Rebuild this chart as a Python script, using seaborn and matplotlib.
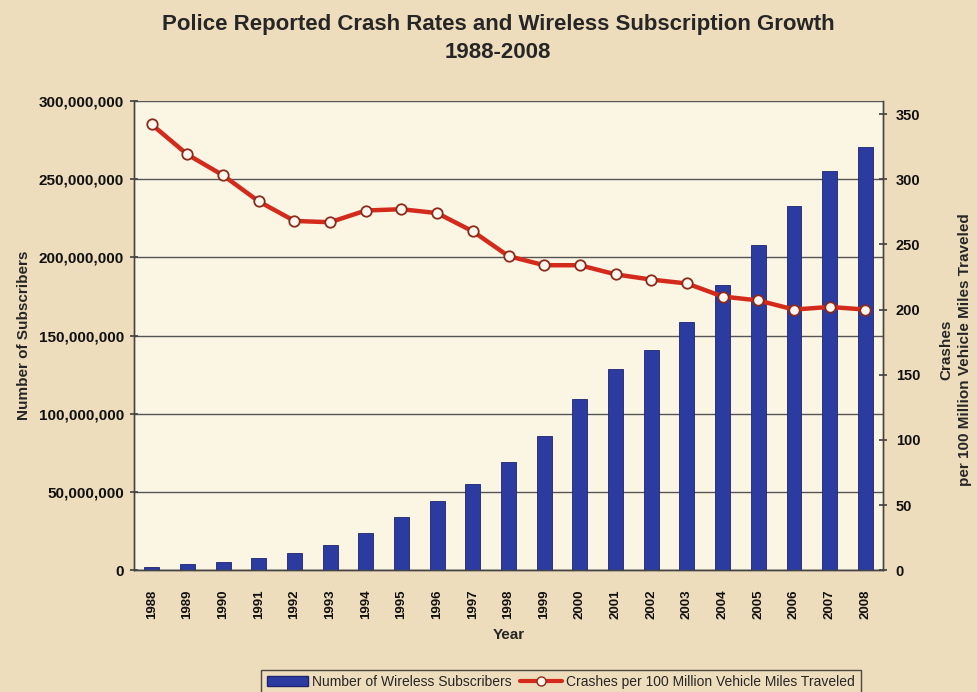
import matplotlib
matplotlib.use("Agg")
import matplotlib.pyplot as plt
import seaborn as sns
import pandas as pd
import numpy as np
from matplotlib.patches import Patch
from matplotlib.lines import Line2D
from matplotlib.ticker import FuncFormatter, MultipleLocator

years = [str(y) for y in range(1988, 2009)]
subscribers = [2.0e6, 3.8e6, 5.5e6, 7.5e6, 11.0e6, 16.0e6, 24.0e6, 34.0e6, 44.0e6, 55.3e6,
               69.2e6, 86.0e6, 109.5e6, 128.4e6, 141.0e6, 158.7e6, 182.1e6, 207.9e6,
               233.0e6, 255.4e6, 270.3e6]
crash_rate = [342, 319, 303, 283, 268, 267, 276, 277, 274, 260,
              241, 234, 234, 227, 223, 220, 210, 207, 200, 202, 200]

df = pd.DataFrame({"year": years, "subscribers": subscribers, "crashes": crash_rate})

sns.set_theme(style="white")
plt.rcParams["font.family"] = ["Liberation Sans", "DejaVu Sans"]

bg = "#EEDDBC"
fig = plt.figure(figsize=(9.77, 6.92), dpi=100, facecolor=bg)
ax = fig.add_axes([0.137, 0.176, 0.767, 0.678])
ax.set_facecolor("#FBF5E4")

# subscribers as bars on the left axis
sns.barplot(data=df, x="year", y="subscribers", color="#2C3BA0", saturation=1,
            width=0.42, edgecolor="#1C2470", linewidth=0.6, ax=ax, zorder=3)
ax.set_ylim(0, 300e6)
ax.yaxis.set_major_locator(MultipleLocator(50e6))
ax.yaxis.set_major_formatter(FuncFormatter(lambda v, p: f"{int(v):,}"))
ax.grid(axis="y", color="#555555", linewidth=1.0, zorder=0)
ax.set_axisbelow(True)
ax.set_xlim(-0.5, len(years) - 0.5)

# crash rate line on the right axis
ax2 = ax.twinx()
sns.pointplot(data=df, x="year", y="crashes", color="#D42A1C", ax=ax2,
              linewidth=3.2, markers="o", markersize=7.5,
              markerfacecolor="#FFF8EE", markeredgecolor="#8A2A1A", markeredgewidth=1.3)
ax2.set_ylim(0, 360)
ax2.yaxis.set_major_locator(MultipleLocator(50))
ax2.set_xlim(-0.5, len(years) - 0.5)

for a in (ax, ax2):
    for s in a.spines.values():
        s.set_color("#444444")
        s.set_linewidth(1.0)
    a.spines["top"].set_visible(False)

ax.set_xticks(np.arange(len(years) + 1) - 0.5, minor=True)
ax.tick_params(axis="x", which="major", length=0, labelrotation=90, labelsize=9.5, pad=14)
ax.tick_params(axis="x", which="minor", length=6, direction="inout", color="#444444", width=1)
ax.tick_params(axis="y", length=6, direction="inout", color="#444444", labelsize=11, pad=4)
ax2.tick_params(axis="y", length=6, direction="inout", color="#444444", labelsize=10.5, pad=6)
ax2.tick_params(axis="x", length=0)
for lab in ax.get_xticklabels() + ax.get_yticklabels() + ax2.get_yticklabels():
    lab.set_fontweight("bold")
    lab.set_color("#111111")

ax.set_xlabel("Year", fontsize=11, fontweight="bold", labelpad=6)
ax.set_ylabel("Number of Subscribers", fontsize=11, fontweight="bold", labelpad=6)
ax2.set_ylabel("")

fig.text(0.978, 0.495, "Crashes\nper 100 Million Vehicle Miles Traveled", rotation=90,
         ha="center", va="center", fontsize=11, fontweight="bold", linespacing=1.4)

fig.suptitle("Police Reported Crash Rates and Wireless Subscription Growth\n1988-2008",
             x=0.51, y=0.98, fontsize=16, fontweight="bold", linespacing=1.45)

handles = [Patch(facecolor="#2C3BA0", edgecolor="#1C2470"),
           Line2D([0], [0], color="#D42A1C", linewidth=3, marker="o", markersize=6.5,
                  markerfacecolor="#FFF8EE", markeredgecolor="#8A2A1A")]
leg = fig.legend(handles, ["Number of Wireless Subscribers",
                           "Crashes per 100 Million Vehicle Miles Traveled"],
                 loc="lower center", bbox_to_anchor=(0.574, -0.014), ncol=2, fontsize=10,
                 frameon=True, fancybox=False, edgecolor="#222222", facecolor=bg,
                 handlelength=3.0, handletextpad=0.3, columnspacing=0.6, borderpad=0.4)
leg.get_frame().set_linewidth(1.0)

fig.savefig("out.png", dpi=100, facecolor=bg)
